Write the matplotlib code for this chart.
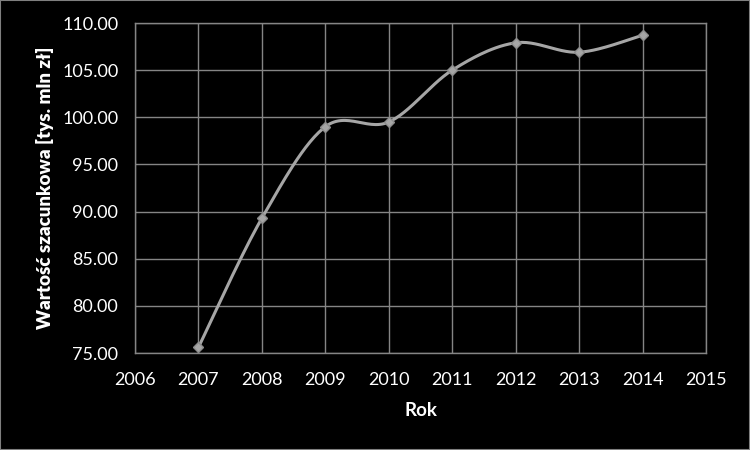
import matplotlib
matplotlib.use('Agg')
import matplotlib.pyplot as plt
from matplotlib.ticker import FormatStrFormatter
import numpy as np

years = [2007, 2008, 2009, 2010, 2011, 2012, 2013, 2014]
values = [75.6, 89.3, 99.0, 99.5, 105.0, 107.9, 106.9, 108.7]

x_ticks = list(range(2006, 2016))
y_ticks = [75, 80, 85, 90, 95, 100, 105, 110]


def smooth(xs, ys, n=30):
    """Catmull-Rom style curve through the points, like Excel smoothed lines."""
    xs = np.asarray(xs, float)
    ys = np.asarray(ys, float)
    px = np.concatenate([[xs[0]], xs, [xs[-1]]])
    py = np.concatenate([[ys[0]], ys, [ys[-1]]])
    outx, outy = [], []
    t = np.linspace(0, 1, n)
    for i in range(1, len(px) - 2):
        p0, p1, p2, p3 = [np.array([px[j], py[j]]) for j in range(i - 1, i + 3)]
        c1 = p1 + (p2 - p0) / 6.0
        c2 = p2 - (p3 - p1) / 6.0
        seg = ((1 - t)[:, None] ** 3 * p1 + 3 * ((1 - t) ** 2 * t)[:, None] * c1
               + 3 * ((1 - t) * t ** 2)[:, None] * c2 + (t ** 3)[:, None] * p2)
        outx.extend(seg[:, 0])
        outy.extend(seg[:, 1])
    return outx, outy


plt.rcParams['font.family'] = ['Lato', 'DejaVu Sans']

fig = plt.figure(figsize=[7.5, 4.5], dpi=100, facecolor='black')
ax = fig.add_axes([135 / 750, 1 - 353 / 450, (706 - 135) / 750, (353 - 23) / 450])
ax.set_facecolor('black')

sx, sy = smooth(years, values)
ax.plot(sx, sy, color='#a6a6a6', lw=2.2, zorder=3, solid_capstyle='round')
ax.plot(years, values, ls='none', marker='D', ms=5.5, color='#a6a6a6',
        markeredgecolor='#8c8c8c', zorder=4)

ax.set_xlim(2006, 2015)
ax.set_ylim(75, 110)
ax.set_xticks(x_ticks)
ax.set_yticks(y_ticks)
ax.yaxis.set_major_formatter(FormatStrFormatter('%.2f'))
ax.grid(True, color='#858585', lw=1)
ax.set_axisbelow(True)
for s in ax.spines.values():
    s.set_color('#858585')
    s.set_linewidth(1)
ax.tick_params(length=0, colors='white', labelsize=13)
ax.tick_params(axis='y', pad=12)
ax.tick_params(axis='x', pad=14)

ax.set_xlabel('Rok', color='white', fontsize=13.5, fontweight='bold', labelpad=10)
ax.set_ylabel('Wartość szacunkowa [tys. mln zł]', color='white', fontsize=13.5,
              fontweight='heavy', labelpad=6)

border = plt.Rectangle((0, 0), 1, 1, transform=fig.transFigure, fill=False,
                       edgecolor='#7f7f7f', lw=1.5)
fig.patches.append(border)

fig.savefig('out.png', dpi=100, facecolor='black')
